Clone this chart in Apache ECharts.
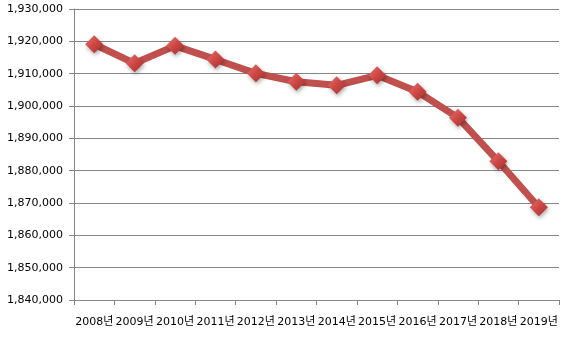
<!DOCTYPE html>
<html>
<head>
<meta charset="utf-8">
<script src="https://cdn.jsdelivr.net/npm/echarts@6/dist/echarts.min.js"></script>
<style>html,body{margin:0;padding:0;background:#fff}#c{width:568px;height:339px}</style>
</head>
<body>
<div id="c"></div>
<script>
var categories = ['2008년','2009년','2010년','2011년','2012년','2013년','2014년','2015년','2016년','2017년','2018년','2019년'];
var values = [1919100, 1913200, 1918600, 1914400, 1910100, 1907500, 1906400, 1909500, 1904400, 1896400, 1882900, 1868700];
var yMin = 1840000, yMax = 1930000, yStep = 10000;

var chart = echarts.init(document.getElementById('c'));
chart.setOption({
  animation: false,
  backgroundColor: '#ffffff',
  grid: {left: 74, right: 9, top: 9, bottom: 39, containLabel: false},
  xAxis: {
    type: 'category',
    data: categories,
    boundaryGap: true,
    axisLine: {lineStyle: {color: '#868686', width: 1}},
    axisTick: {show: true, alignWithLabel: false, length: 5, lineStyle: {color: '#868686'}},
    axisLabel: {color: '#000', fontSize: 11, fontFamily: '"DejaVu Sans", "Noto Sans CJK KR"', margin: 17, interval: 0}
  },
  yAxis: {
    type: 'value',
    min: yMin, max: yMax, interval: yStep,
    axisLine: {show: true, lineStyle: {color: '#868686', width: 1}},
    axisTick: {show: true, length: 5, lineStyle: {color: '#868686'}},
    splitLine: {lineStyle: {color: '#868686', width: 1}},
    axisLabel: {color: '#000', fontSize: 11, fontFamily: 'DejaVu Sans', margin: 11,
      formatter: function(v){ return v.toLocaleString('en-US'); }}
  },
  series: [{
    type: 'line',
    data: values,
    lineStyle: {color: '#C0504D', width: 7},
    symbol: 'diamond',
    symbolSize: [18, 18],
    itemStyle: {
      color: new echarts.graphic.LinearGradient(0, 0, 1, 1, [
        {offset: 0, color: '#E8716E'},
        {offset: 0.5, color: '#CC4744'},
        {offset: 1, color: '#A32E2B'}
      ]),
      shadowColor: 'rgba(0,0,0,0.35)', shadowBlur: 4, shadowOffsetX: 1, shadowOffsetY: 2
    },
    showSymbol: true
  }]
});
</script>
</body>
</html>
